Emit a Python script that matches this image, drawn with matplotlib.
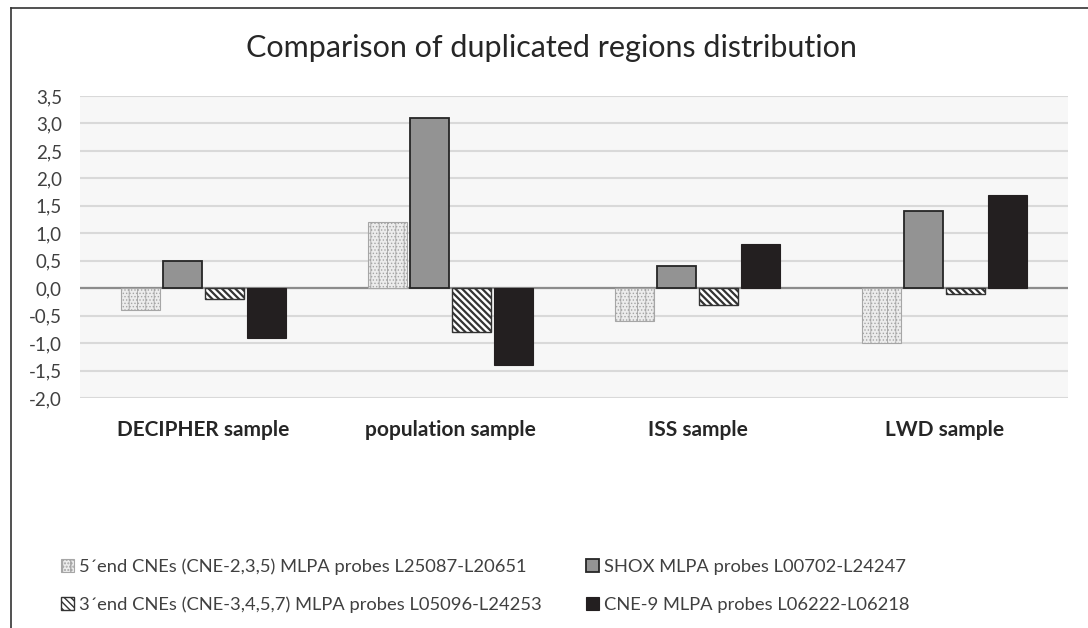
import matplotlib
matplotlib.use("Agg")
import matplotlib.pyplot as plt
import matplotlib.transforms as mtransforms
from matplotlib.lines import Line2D
import numpy as np

categories = ["DECIPHER sample", "population sample", "ISS sample", "LWD sample"]
series_names = [
    "5\u00b4end CNEs (CNE-2,3,5) MLPA probes L25087-L20651",
    "SHOX MLPA probes L00702-L24247",
    "3\u00b4end CNEs (CNE-3,4,5,7) MLPA probes L05096-L24253",
    "CNE-9 MLPA probes L06222-L06218",
]
end5_cnes = [-0.4, 1.2, -0.6, -1.0]
shox = [0.5, 3.1, 0.4, 1.4]
end3_cnes = [-0.2, -0.8, -0.3, -0.1]
cne9 = [-0.9, -1.4, 0.8, 1.7]
yticks = [-2.0, -1.5, -1.0, -0.5, 0.0, 0.5, 1.0, 1.5, 2.0, 2.5, 3.0, 3.5]
title = "Comparison of duplicated regions distribution"

plt.rcParams['font.family'] = ['Lato', 'DejaVu Sans']

fig = plt.figure(figsize=(10.88, 6.28), dpi=100)
ax = fig.add_axes([80/1088, 1-398/628, (1068-80)/1088, (398-96)/628])
ax.set_facecolor('#f7f7f7')

x = np.arange(len(categories))
w = 0.154
pitch = 0.17
offsets = [-1.5*pitch, -0.5*pitch, 0.5*pitch, 1.5*pitch]
styles = [
    dict(facecolor='#ececec', edgecolor='#a6a6a6', hatch='||.....', linewidth=0.8),
    dict(facecolor='#939393', edgecolor='#262626', linewidth=1.3),
    dict(facecolor='#ffffff', edgecolor='#333333', hatch='\\\\\\\\\\', linewidth=1.0),
    dict(facecolor='#231f20', edgecolor='#231f20', linewidth=0.8),
]
hatch_lw = [0.6, 1.0, 1.6, 1.0]
data = [end5_cnes, shox, end3_cnes, cne9]
handles = []
for vals, off, st, name, hl in zip(data, offsets, styles, series_names, hatch_lw):
    with plt.rc_context({'hatch.linewidth': hl}):
        b = ax.bar(x + off, vals, width=w, zorder=3, label=name, **st)
    for p in b.patches:
        if hasattr(p, 'set_hatch_linewidth'):
            p.set_hatch_linewidth(hl)
    handles.append(b)

ax.set_ylim(-2.0, 3.5)
ax.set_xlim(-0.5, 3.5)
ax.set_yticks(yticks)
ax.set_yticklabels([f"{t:.1f}".replace('.', ',') for t in yticks])
ax.yaxis.grid(True, color='#d9d9d9', linewidth=1.5, zorder=0)
ax.set_axisbelow(True)
ax.axhline(0, color='#8c8c8c', linewidth=1.6, zorder=2)
for s in ax.spines.values():
    s.set_visible(False)
ax.tick_params(axis='y', length=0, labelsize=13.5, labelcolor='#404040', pad=13)
ax.set_xticks([])

trans = mtransforms.blended_transform_factory(ax.transData, fig.transFigure)
for xi, c in zip(x, categories):
    ax.text(xi, 1 - 430/628, c, transform=trans, ha='center', va='center',
            fontsize=15, fontweight='bold', color='#262626')

fig.text(551/1088, 1 - 48/628, title, ha='center', va='center', fontsize=22, color='#262626')

order = [0, 2, 1, 3]
leg = fig.legend([handles[i] for i in order], [series_names[i] for i in order],
                 ncol=2, loc='upper left', bbox_to_anchor=(61/1088, 1 - 558/628),
                 frameon=False, fontsize=13.2, labelcolor='#404040',
                 handlelength=0.7, handleheight=0.7, handletextpad=0.3,
                 columnspacing=2.4, labelspacing=1.2, borderaxespad=0, borderpad=0)

# outer frame (left & top)
fig.add_artist(Line2D([11/1088, 11/1088], [0, 1 - 8/628], transform=fig.transFigure, color='#333333', linewidth=1.2))
fig.add_artist(Line2D([11/1088, 1], [1 - 8/628, 1 - 8/628], transform=fig.transFigure, color='#333333', linewidth=1.2))

fig.savefig('out.png', dpi=100, facecolor='white')
